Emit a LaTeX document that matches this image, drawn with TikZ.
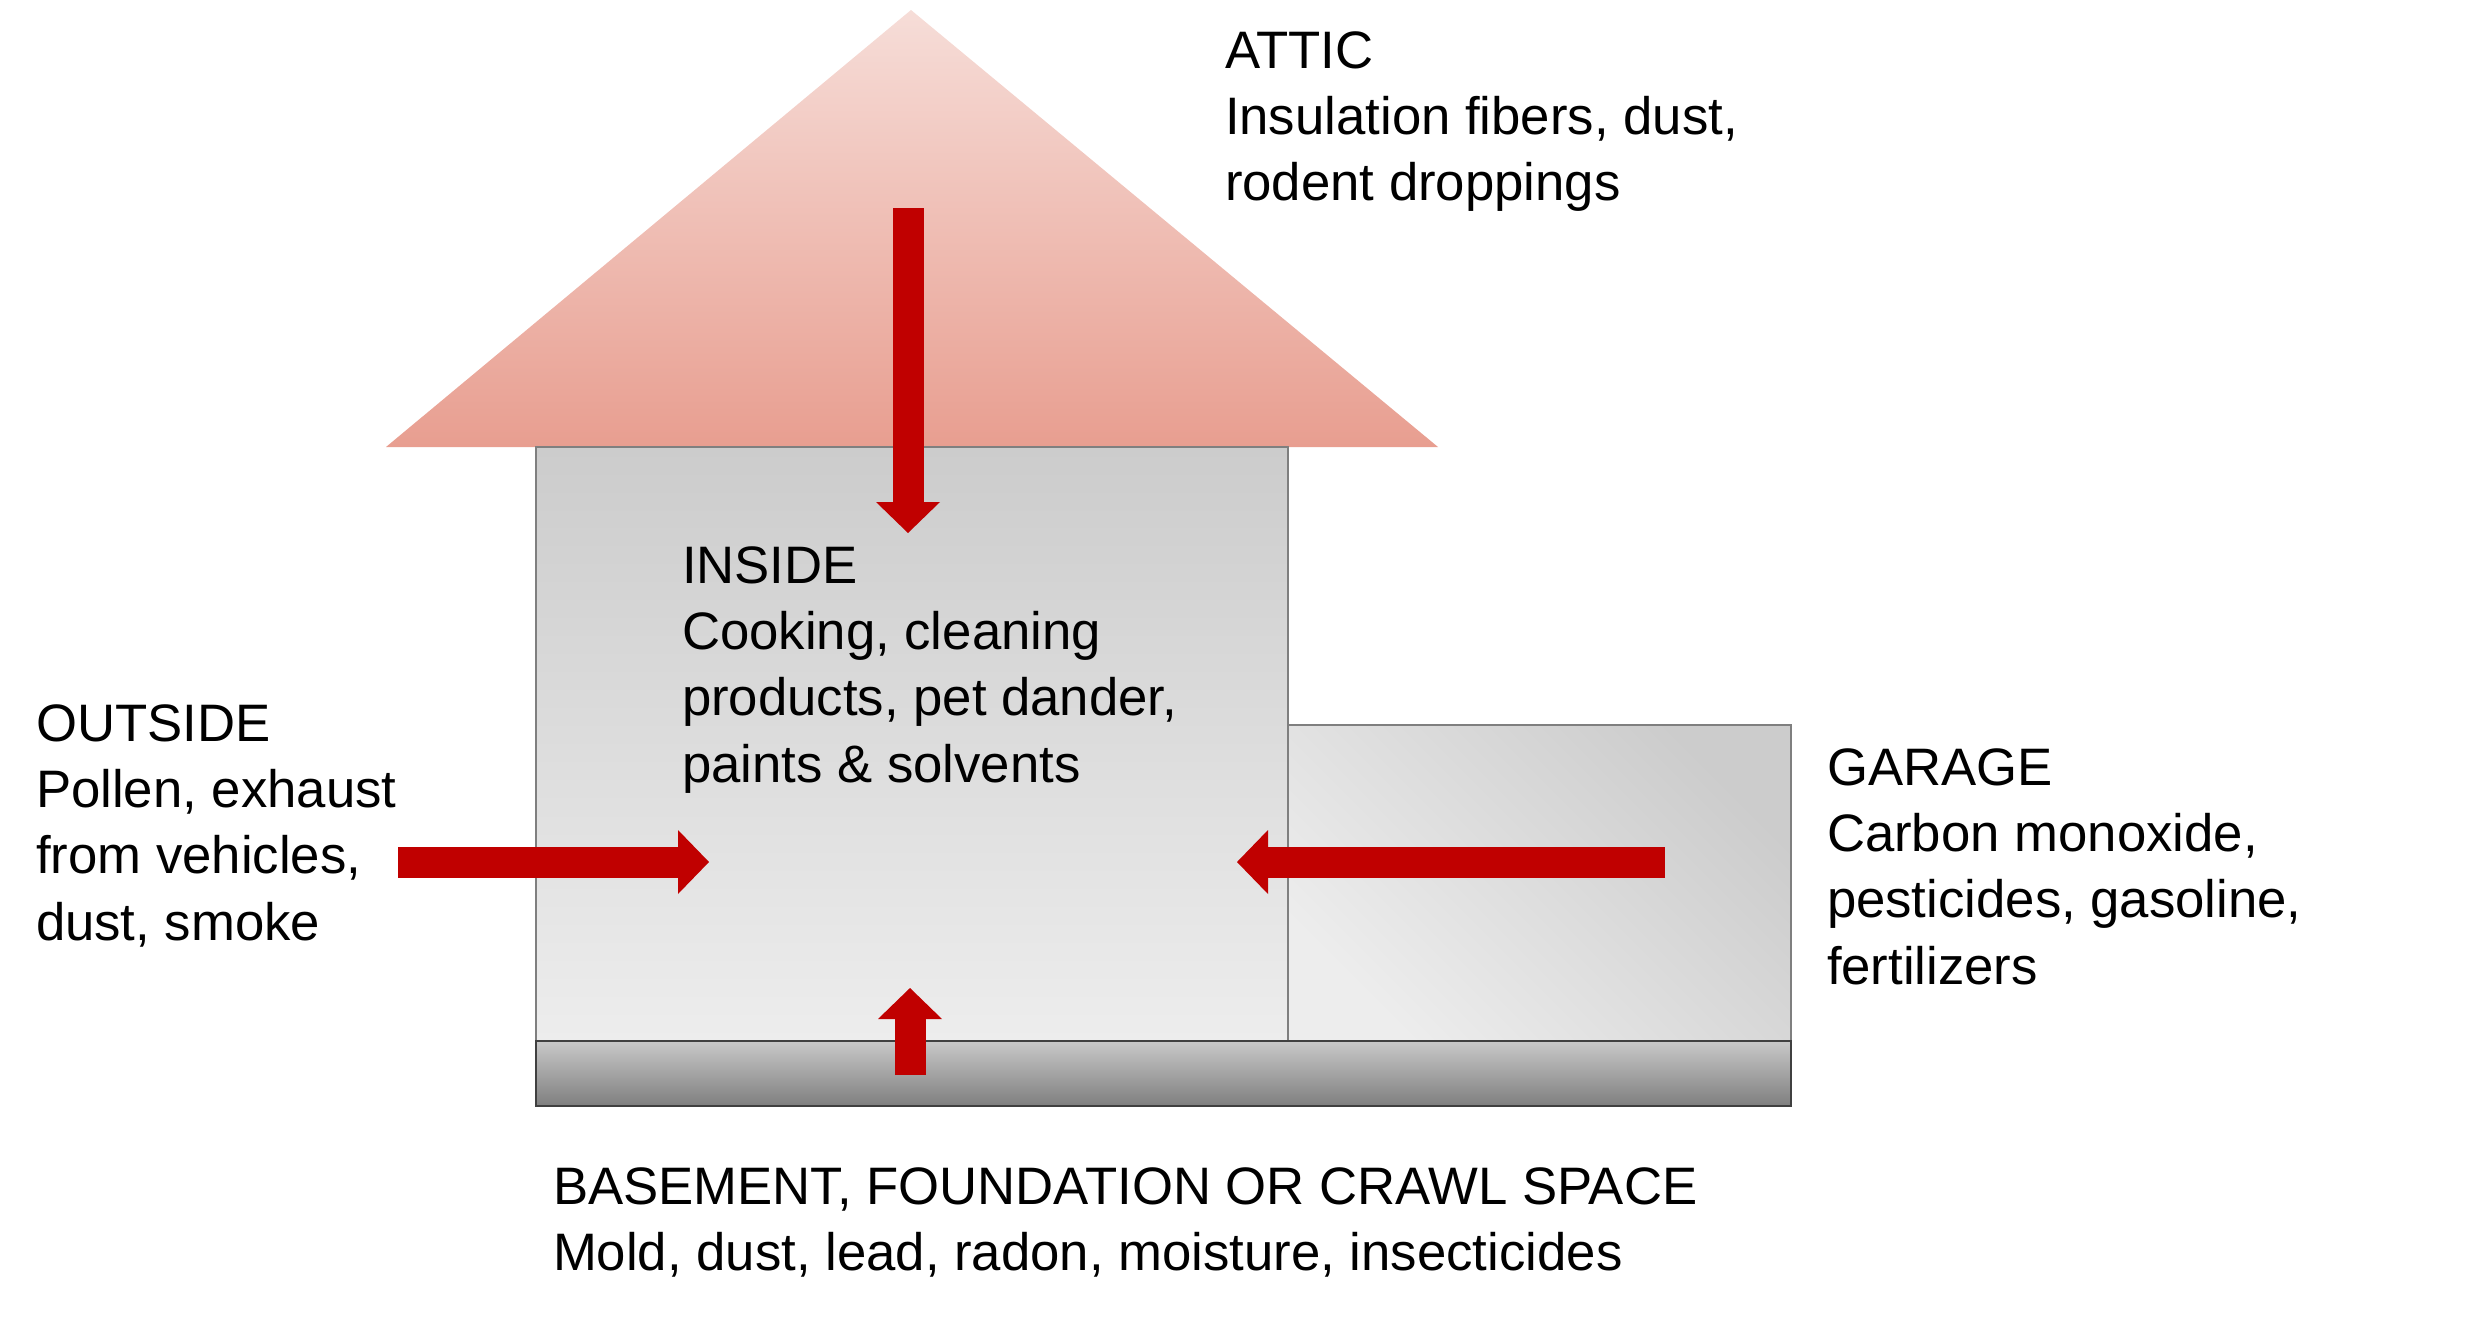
\documentclass[tikz,border=0pt]{standalone}
\usepackage{fontspec}
\setmainfont{Liberation Sans}
\usepackage{tikz}
\usetikzlibrary{arrows.meta}
\definecolor{dachoben}{HTML}{F6DDD8}
\definecolor{dachunten}{HTML}{E89E90}
\definecolor{hausoben}{HTML}{CCCCCC}
\definecolor{hausunten}{HTML}{EDEDED}
\definecolor{sockeloben}{HTML}{C8C8C8}
\definecolor{sockelunten}{HTML}{7F7F7F}
\definecolor{rand}{HTML}{7F7F7F}
\definecolor{sockelrand}{HTML}{404040}
\definecolor{pfeilrot}{HTML}{C00000}

\begin{document}
\begin{tikzpicture}[x=0.1mm, y=-0.1mm,
			pfeil/.style={line width=3.1mm, color=pfeilrot, -{Triangle[length=3.1mm, width=6.4mm, line width=0pt]}},
			txt/.style={anchor=north west, inner sep=0pt, outer sep=0pt, align=left},
			font=\fontsize{15}{18.8}\selectfont]
			\useasboundingbox (0,0) rectangle (2488,1318);
			% Dach
			\shade[top color=dachoben, bottom color=dachunten] (386,447) -- (911,10) -- (1438,447) -- cycle;
			% Haus, Garage, Fundament
			\shade[draw=rand, line width=0.15mm, top color=hausoben, bottom color=hausunten] (536,447) rectangle (1288,1041);
			\shade[draw=rand, line width=0.15mm, top color=hausoben, bottom color=hausunten, shading angle=-45] (1288,725) rectangle (1791,1041);
			\shade[draw=sockelrand, line width=0.25mm, top color=sockeloben, bottom color=sockelunten] (536,1041) rectangle (1791,1106);
			% Pfeile
			\coordinate (dachA) at (908,208);
			\coordinate (dachB) at (908,533);
			\coordinate (aussenA) at (398,862);
			\coordinate (aussenB) at (709,862);
			\coordinate (garageA) at (1665,862);
			\coordinate (garageB) at (1237,862);
			\coordinate (kellerA) at (910,1075);
			\coordinate (kellerB) at (910,988);
			\draw[pfeil] (dachA) -- (dachB);
			\draw[pfeil] (aussenA) -- (aussenB);
			\draw[pfeil] (garageA) -- (garageB);
			\draw[pfeil] (kellerA) -- (kellerB);
			% Beschriftung
			\node[txt] (attic) at (1225,32) {ATTIC\\Insulation fibers, dust,\\rodent droppings};
			\node[txt] (inside) at (682,547) {INSIDE\\Cooking, cleaning\\products, pet dander,\\paints \& solvents};
			\node[txt] (outside) at (36,705) {OUTSIDE\\Pollen, exhaust\\from vehicles,\\dust, smoke};
			\node[txt] (garage) at (1827,749) {GARAGE\\Carbon monoxide,\\pesticides, gasoline,\\fertilizers};
			\node[txt] (basement) at (553,1168) {BASEMENT, FOUNDATION OR CRAWL SPACE\\Mold, dust, lead, radon, moisture, insecticides};
		\end{tikzpicture}
\end{document}
